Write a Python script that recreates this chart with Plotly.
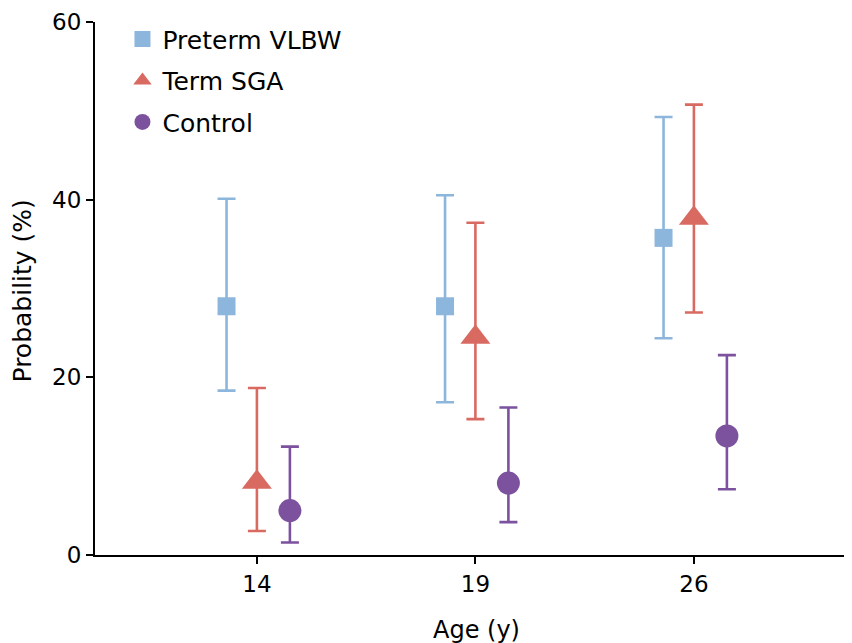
import plotly.graph_objects as go

ages = ["14", "19", "26"]
series_names = ["Preterm VLBW", "Term SGA", "Control"]

vlbw_mean = [28.0, 28.0, 35.7]
vlbw_low = [18.5, 17.2, 24.4]
vlbw_high = [40.1, 40.5, 49.3]

sga_mean = [8.2, 24.5, 37.9]
sga_low = [2.7, 15.3, 27.3]
sga_high = [18.8, 37.4, 50.7]

ctrl_mean = [5.0, 8.1, 13.4]
ctrl_low = [1.4, 3.7, 7.4]
ctrl_high = [12.2, 16.6, 22.5]

colors = ["#8DB6DC", "#D96A62", "#7C529E"]
symbols = ["square", "triangle-up", "circle"]
sizes = [18, 26, 23]
offsets = [-0.139, 0.0, 0.151]

means = [vlbw_mean, sga_mean, ctrl_mean]
lows = [vlbw_low, sga_low, ctrl_low]
highs = [vlbw_high, sga_high, ctrl_high]

FONT = "DejaVu Sans"

fig = go.Figure()
for i, name in enumerate(series_names):
    xs = [k + offsets[i] for k in range(len(ages))]
    m = means[i]
    up = [h - v for h, v in zip(highs[i], m)]
    dn = [v - l for v, l in zip(m, lows[i])]
    fig.add_trace(go.Scatter(
        x=xs, y=m, mode="markers", name=name, legendgroup=name,
        marker=dict(symbol=symbols[i], size=sizes[i], color=colors[i],
                    line=dict(width=0)),
        error_y=dict(type="data", symmetric=False, array=up, arrayminus=dn,
                     color=colors[i], thickness=2.6, width=9),
    ))

fig.update_layout(
    width=852, height=643,
    margin=dict(l=87, r=2, t=14, b=96),
    paper_bgcolor="white", plot_bgcolor="white",
    font=dict(family=FONT, color="black", size=23),
    showlegend=True,
    legend=dict(x=0.036, y=1.011, xanchor="left", yanchor="top",
                font=dict(family=FONT, size=25, color="black"),
                traceorder="grouped", tracegroupgap=6,
                bgcolor="rgba(0,0,0,0)"),
    xaxis=dict(
        range=[-0.741, 2.751], tickmode="array",
        tickvals=list(range(len(ages))), ticktext=ages,
        showline=True, linecolor="black", linewidth=2.2,
        ticks="outside", ticklen=7, tickwidth=2, tickcolor="black",
        showgrid=False, zeroline=False,
        tickfont=dict(family=FONT, size=23),
        title=dict(text="Age (y)", font=dict(family=FONT, size=24), standoff=25),
    ),
    yaxis=dict(
        range=[0, 60], tickmode="array", tickvals=[0, 20, 40, 60],
        showline=True, linecolor="black", linewidth=2.2,
        ticks="outside", ticklen=7, tickwidth=2, tickcolor="black",
        showgrid=False, zeroline=False,
        tickfont=dict(family=FONT, size=23),
    ),
    annotations=[dict(
        text="Probability (%)", textangle=-90, showarrow=False,
        xref="paper", yref="paper", x=0, y=0.5, xanchor="center", yanchor="middle",
        xshift=-73, yshift=-3,
        font=dict(family=FONT, size=25, color="black"),
    )],
)

fig.write_html("out.html")
